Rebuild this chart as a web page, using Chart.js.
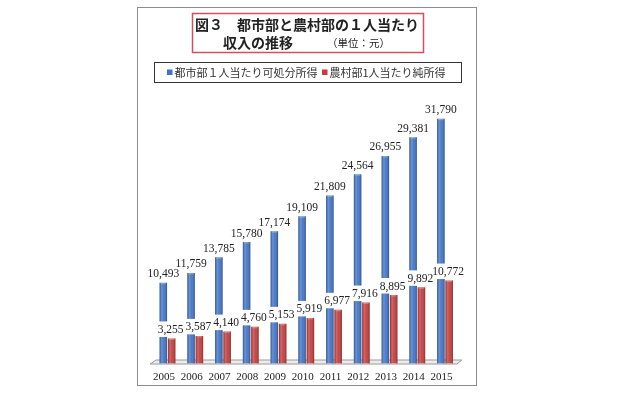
<!DOCTYPE html>
<html>
<head>
<meta charset="utf-8">
<script src="https://cdn.jsdelivr.net/npm/chart.js@4.4.1/dist/chart.umd.min.js"></script>
<style>
html,body{margin:0;padding:0;background:#fff;}
#wrap{width:620px;height:396px;position:relative;}
</style>
</head>
<body>
<div id="wrap"><canvas id="c" width="620" height="396"></canvas></div>
<script>
const years = ['2005','2006','2007','2008','2009','2010','2011','2012','2013','2014','2015'];
const urban = [10493,11759,13785,15780,17174,19109,21809,24564,26955,29381,31790];
const rural = [3255,3587,4140,4760,5153,5919,6977,7916,8895,9892,10772];
const seriesNames = ['都市部１人当たり可処分所得','農村部1人当たり純所得'];
const titleLine1 = '図３　都市部と農村部の１人当たり';
const titleLine2a = '収入の推移';
const titleLine2b = '（単位：元）';

const BLUE = '#4174C8';
const RED = '#C43D3D';
const CJK = '"Noto Sans CJK JP", sans-serif';
const SERIF = '"Liberation Serif", "DejaVu Serif", serif';

function fmt(v){ return v.toLocaleString('en-US'); }

const deco = {
  id: 'deco',
  beforeDraw(chart){
    const ctx = chart.ctx;
    ctx.save();
    // outer frame
    ctx.strokeStyle = '#8c8c8c';
    ctx.lineWidth = 1;
    ctx.strokeRect(137.5, 7.5, 339, 378);
    // title box
    ctx.strokeStyle = '#d0505c';
    ctx.lineWidth = 1.5;
    ctx.strokeRect(192.5, 13.5, 231, 39);
    ctx.fillStyle = '#222';
    ctx.textBaseline = 'middle';
    ctx.textAlign = 'left';
    ctx.font = 'bold 14px ' + CJK;
    ctx.fillText(titleLine1, 195, 25);
    ctx.fillText(titleLine2a, 223, 43);
    ctx.font = '10.5px ' + CJK;
    ctx.fillText(titleLine2b, 327, 43);
    // legend box
    ctx.strokeStyle = '#333';
    ctx.lineWidth = 1;
    ctx.strokeRect(154.5, 62.5, 307, 20);
    const cols = chart.data.datasets.map(d => d.backgroundColor);
    const xs = [167, 322];
    ctx.font = '11px ' + CJK;
    chart.data.datasets.forEach((d, i) => {
      ctx.fillStyle = cols[i];
      ctx.fillRect(xs[i], 69.5, 5.5, 5.5);
      ctx.fillStyle = '#333';
      ctx.fillText(d.label, xs[i] + 7.5, 72.5);
    });
    ctx.restore();
  },
  beforeDatasetsDraw(chart){
    const ctx = chart.ctx;
    const a = chart.chartArea;
    ctx.save();
    ctx.beginPath();
    ctx.moveTo(a.left - 3.5, a.bottom + 0.5);
    ctx.lineTo(a.right - 2, a.bottom + 0.5);
    ctx.lineTo(a.right + 3, a.bottom - 3.5);
    ctx.lineTo(a.left + 2.5, a.bottom - 3.5);
    ctx.closePath();
    ctx.fillStyle = '#ececec';
    ctx.fill();
    ctx.strokeStyle = '#9a9a9a';
    ctx.lineWidth = 1;
    ctx.stroke();
    ctx.restore();
  },
  afterDatasetsDraw(chart){
    const ctx = chart.ctx;
    ctx.save();
    // cylinder shading
    chart.data.datasets.forEach((d, di) => {
      const meta = chart.getDatasetMeta(di);
      meta.data.forEach(el => {
        const p = el.getProps(['x','y','base','width'], true);
        const l = p.x - p.width/2, r = p.x + p.width/2;
        const g = ctx.createLinearGradient(l, 0, r, 0);
        g.addColorStop(0, 'rgba(0,0,0,0.28)');
        g.addColorStop(0.3, 'rgba(255,255,255,0.22)');
        g.addColorStop(0.55, 'rgba(255,255,255,0.05)');
        g.addColorStop(1, 'rgba(0,0,0,0.32)');
        ctx.fillStyle = g;
        ctx.fillRect(l, p.y, p.width, p.base - p.y);
        ctx.fillStyle = 'rgba(255,255,255,0.25)';
        ctx.fillRect(l + 1, p.y, p.width - 2, 1.5);
      });
    });
    // data labels: white boxes first (rural labels cover the urban bars), then texts
    ctx.font = '11.5px ' + SERIF;
    ctx.textAlign = 'center';
    ctx.textBaseline = 'middle';
    const items = [];
    chart.data.datasets.forEach((d, di) => {
      const meta = chart.getDatasetMeta(di);
      meta.data.forEach((el, i) => {
        const p = el.getProps(['x','y'], true);
        const txt = fmt(d.data[i]);
        const w = ctx.measureText(txt).width;
        const cx = di === 1 ? p.x - 1 : p.x;
        items.push({txt, w, cx, y: p.y, di});
      });
    });
    ctx.fillStyle = '#ffffff';
    items.forEach(it => {
      if (it.di === 1) ctx.fillRect(it.cx - it.w/2 - 1.5, it.y - 17, it.w + 3, 15.5);
    });
    ctx.fillStyle = '#222';
    items.forEach(it => ctx.fillText(it.txt, it.cx, it.y - 8.5));
    ctx.restore();
  }
};

new Chart(document.getElementById('c'), {
  type: 'bar',
  data: {
    labels: years,
    datasets: [
      { label: seriesNames[0], data: urban, backgroundColor: BLUE, barPercentage: 0.9, categoryPercentage: 0.6 },
      { label: seriesNames[1], data: rural, backgroundColor: RED, barPercentage: 0.9, categoryPercentage: 0.6 }
    ]
  },
  options: {
    responsive: false,
    animation: false,
    events: [],
    layout: { padding: { left: 153.6, right: 161.1, top: 94, bottom: 5.3 } },
    plugins: { legend: { display: false }, title: { display: false }, tooltip: { enabled: false } },
    scales: {
      x: {
        grid: { display: false, drawTicks: false },
        border: { display: false },
        ticks: {
          color: '#222',
          font: { family: SERIF, size: 11 },
          padding: 7,
          labelOffset: -3.5,
          maxRotation: 0,
          autoSkip: false
        }
      },
      y: {
        display: false,
        min: 0,
        max: 35000
      }
    }
  },
  plugins: [deco]
});
</script>
</body>
</html>
